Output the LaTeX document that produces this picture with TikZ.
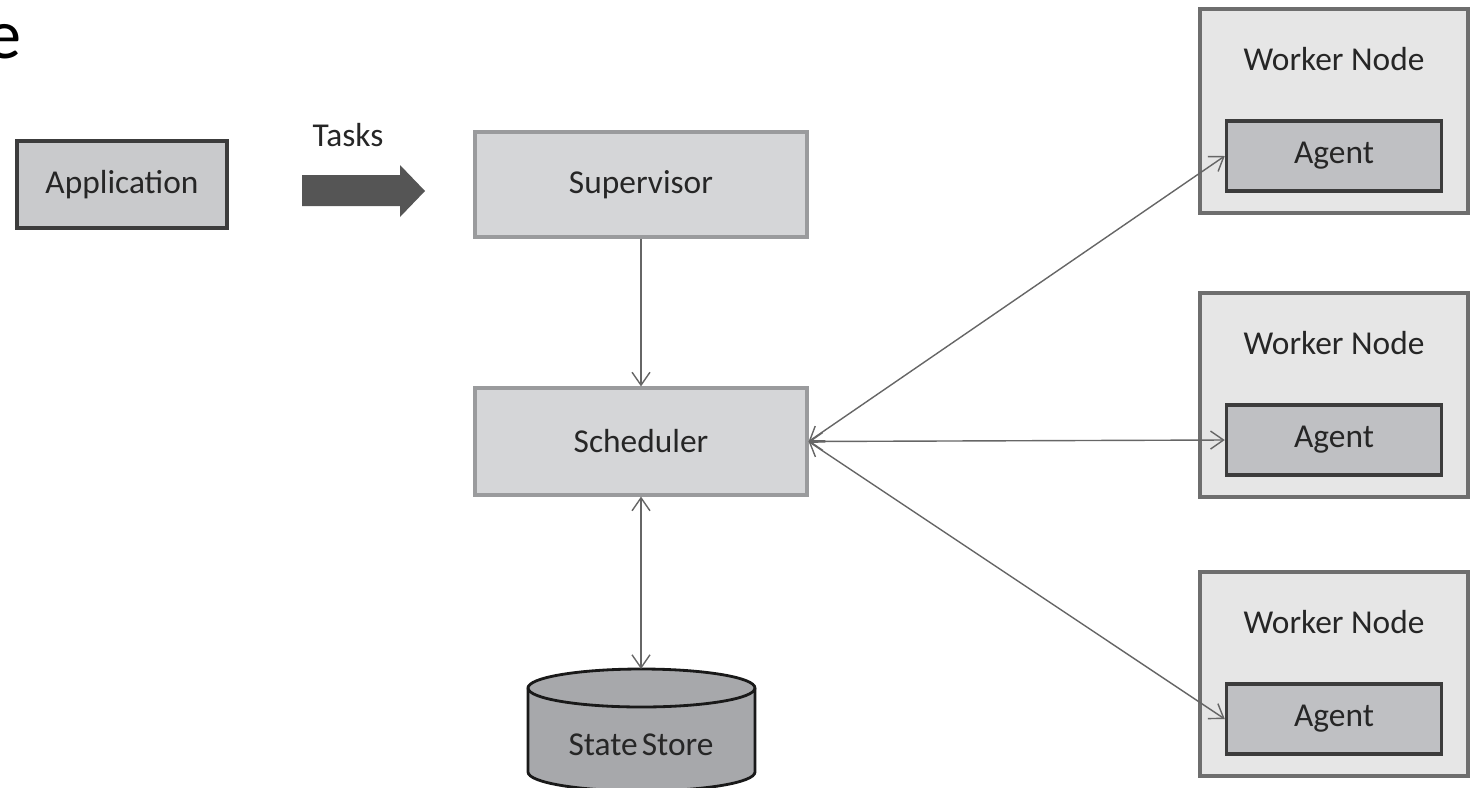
\documentclass[tikz,border=0pt]{standalone}
\usepackage{fontspec}
\setmainfont{Carlito}
\usetikzlibrary{arrows.meta}
\definecolor{appfill}{HTML}{C9CACC}
\definecolor{boxfill}{HTML}{D5D6D8}
\definecolor{boxline}{HTML}{9A9B9D}
\definecolor{workfill}{HTML}{E6E6E6}
\definecolor{workline}{HTML}{6E6E6E}
\definecolor{agentfill}{HTML}{BFC0C3}
\definecolor{darkline}{HTML}{3C3C3C}
\definecolor{storefill}{HTML}{A7A8AB}
\definecolor{taskgray}{HTML}{555555}
\definecolor{linkgray}{HTML}{666666}
\definecolor{txt}{HTML}{262626}
\begin{document}
\begin{tikzpicture}[
    font=\fontsize{9.5pt}{11pt}\selectfont, text=txt,
    box/.style={draw=boxline, line width=0.9pt, fill=boxfill, minimum width=3.32cm},
    worker/.style={draw=workline, line width=0.9pt, fill=workfill, minimum width=2.68cm, minimum height=2.04cm},
    agentbox/.style={draw=darkline, line width=1pt, fill=agentfill, minimum width=2.15cm, minimum height=0.70cm},
    link/.style={draw=linkgray, line width=0.4pt, >={Straight Barb[length=1.3mm,width=1.8mm]}}]
                    \useasboundingbox (0,0) rectangle (14.78,7.87);
                    % cut off slide text at the left edge
                    \node[anchor=base east, inner sep=0, font=\fontsize{20pt}{24pt}\selectfont, text=black] (title) at (0.22,7.29) {e};
                    \node[anchor=base east, inner sep=0, font=\fontsize{16.5pt}{20pt}\selectfont, text=black] (bullet) at (0.05,0.30) {n};
                    \node[draw=darkline, line width=0.9pt, fill=appfill, minimum width=2.10cm, minimum height=0.87cm] (app) at (1.22,6.025) {Application};
                    \fill[taskgray] (3.02,5.81) -- (4.00,5.81) -- (4.00,5.70) -- (4.25,5.96) -- (4.00,6.22) -- (4.00,6.12) -- (3.02,6.12) -- cycle;
                    \node (tasks) at (3.48,6.52) {Tasks};
                    \node[box, minimum height=1.05cm] (sup) at (6.41,6.025) {Supervisor};
                    \node[box, minimum height=1.07cm] (sched) at (6.41,3.455) {Scheduler};
                    \draw[link,->] (sup) -- (sched);
                    % state store
                    \draw[fill=storefill, line width=0.8pt, draw=black!90] (5.28,0.99) -- (5.28,0.15) arc (180:360:1.135 and 0.19) -- (7.55,0.99) arc (0:180:1.135 and 0.19) -- cycle;
                    \draw[line width=0.8pt, draw=black!90] (5.28,0.99) arc (180:360:1.135 and 0.19);
                    \coordinate (storetop) at (6.41,1.18);
                    \node (store) at (6.41,0.42) {State\hspace{0.12em}Store};
                    \draw[link,<->] (sched) -- (storetop);
                    % workers
                    \foreach \i/\y in {1/6.76,2/3.92,3/1.13} {
                        \node[worker] (work\i) at (13.34,\y) {};
                        \node (wlabel\i) at ([yshift=-0.52cm]work\i.north) {Worker Node};
                        \node[agentbox] (agent\i) at ([yshift=-0.45cm]work\i.center) {Agent};
                        \draw[link,<->] (sched.east) -- (agent\i.west);
                    }
                \end{tikzpicture}
\end{document}
